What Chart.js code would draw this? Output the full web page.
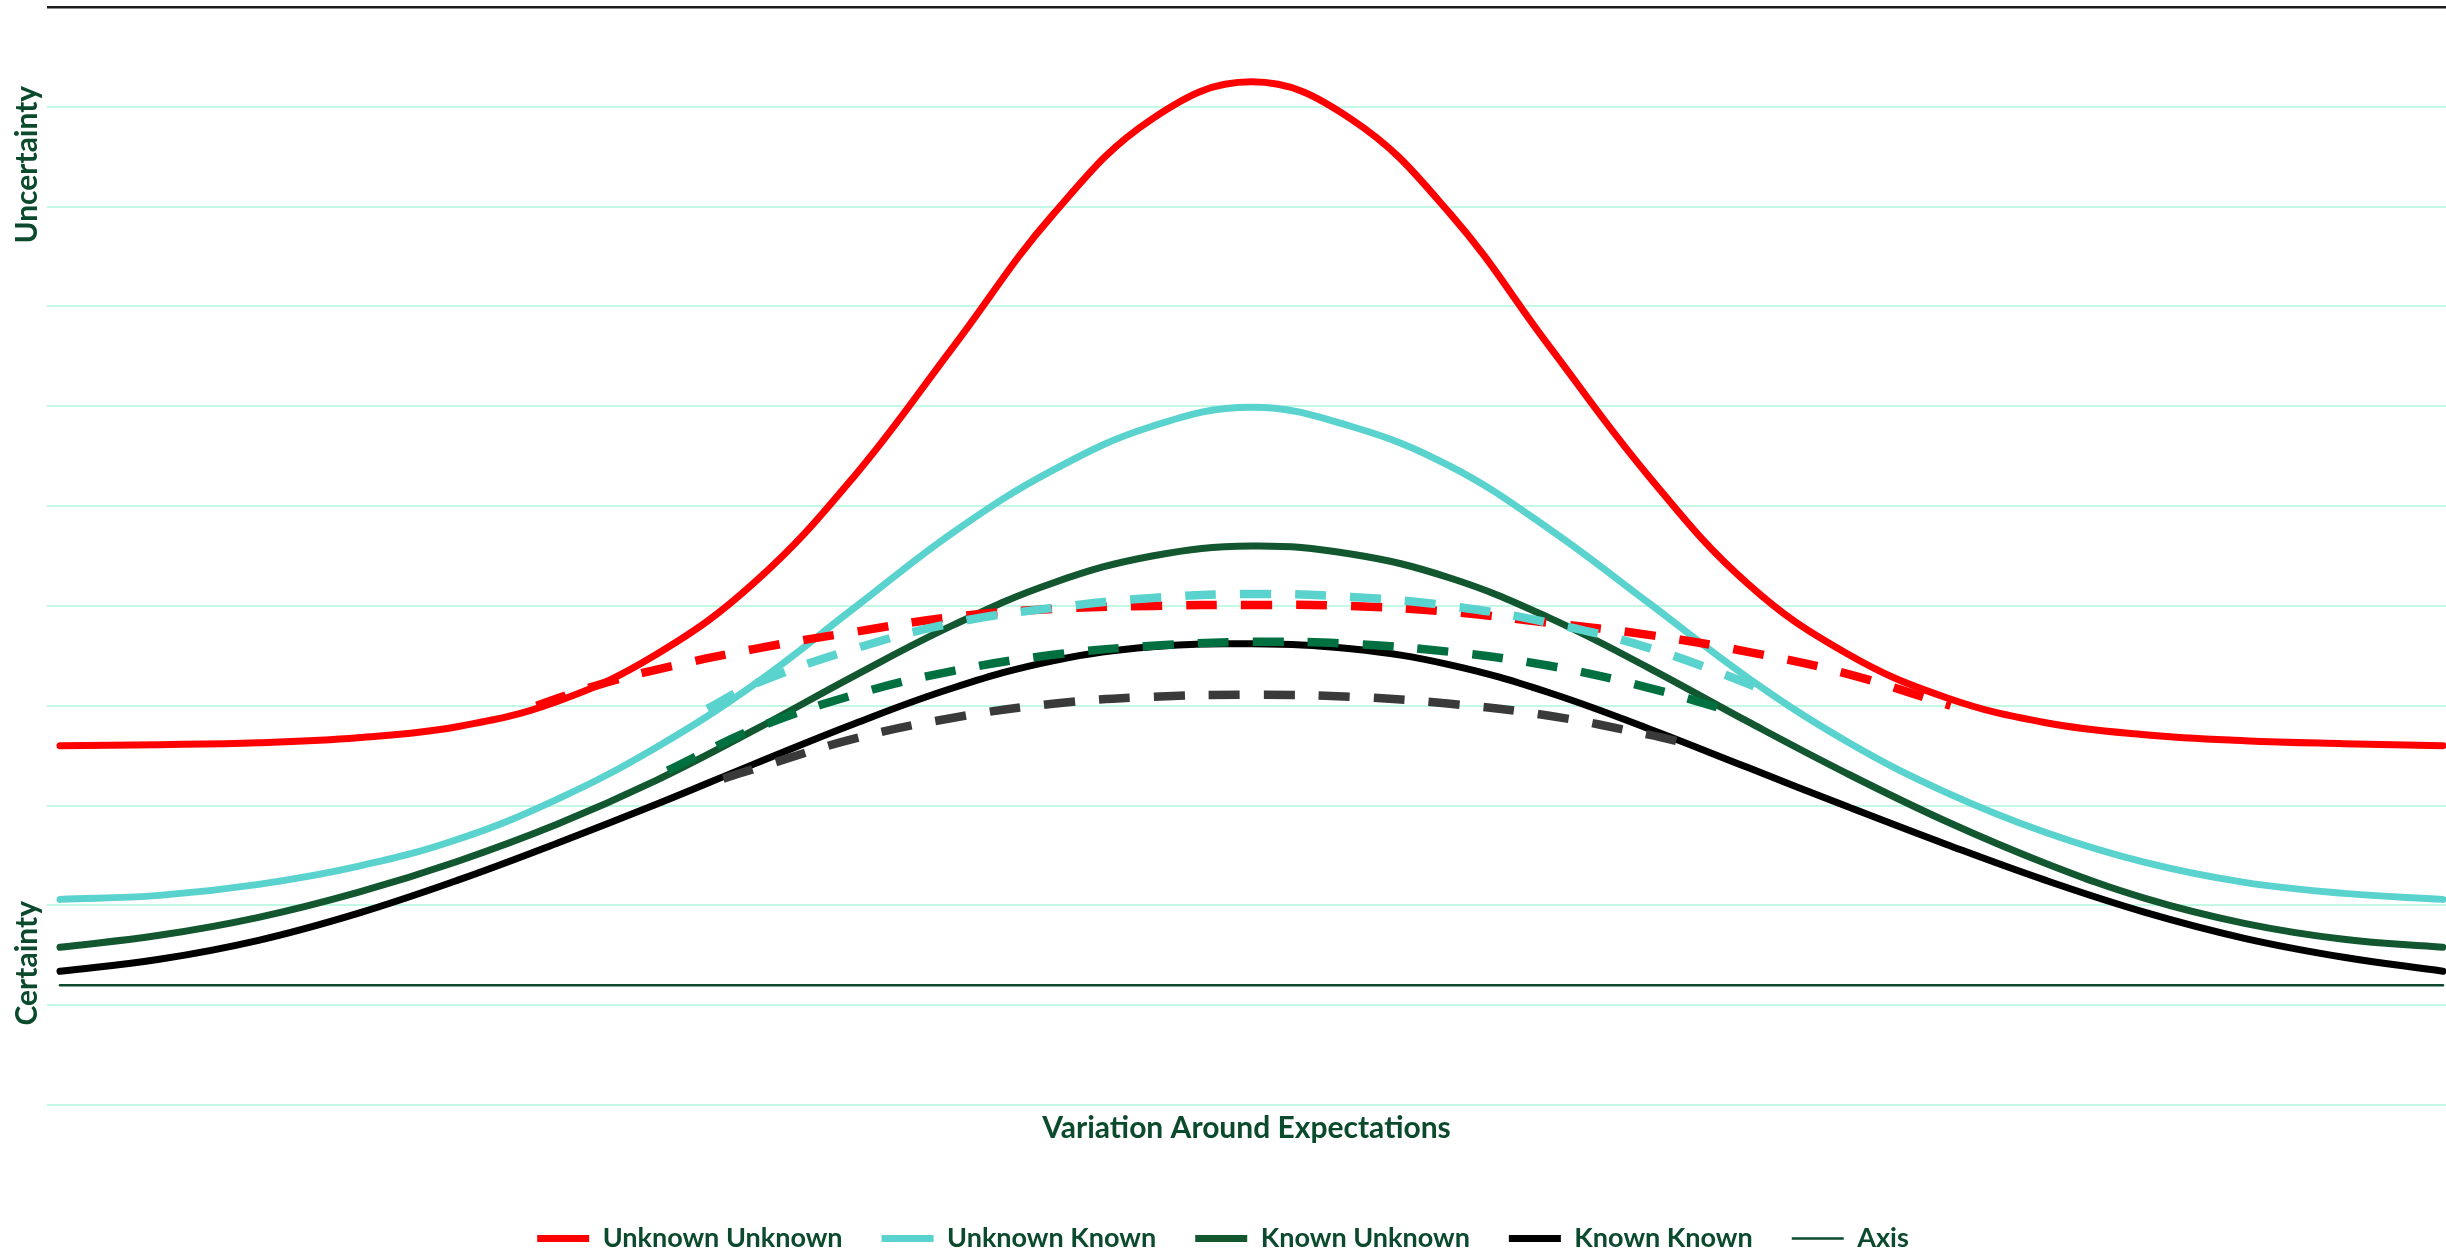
<!DOCTYPE html>
<html>
<head>
<meta charset="utf-8">
<script src="https://cdn.jsdelivr.net/npm/chart.js@4.4.1/dist/chart.umd.min.js"></script>
<style>
  html, body { margin: 0; padding: 0; background: #ffffff; }
  #wrap { width: 2446px; height: 1254px; }
</style>
</head>
<body>
<div id="wrap"><canvas id="myChart"></canvas></div>
<script>
// positions along the x axis (spread around expectation)
const xs = [-3, -2.75, -2.5, -2.25, -2, -1.75, -1.5, -1.25, -1, -0.75, -0.5, -0.25, 0,
  0.25, 0.5, 0.75, 1, 1.25, 1.5, 1.75, 2, 2.25, 2.5, 2.75, 3];

const unknownUnknown = [3.60, 3.61, 3.63, 3.68, 3.79, 4.04, 4.51, 5.24, 6.30, 7.60, 8.92, 9.88, 10.25,
  9.88, 8.93, 7.60, 6.30, 5.22, 4.52, 4.08, 3.83, 3.71, 3.65, 3.62, 3.60];
const unknownKnown = [2.06, 2.10, 2.21, 2.39, 2.66, 3.06, 3.58, 4.22, 4.98, 5.74, 6.36, 6.80, 6.99,
  6.80, 6.40, 5.77, 5.03, 4.28, 3.64, 3.13, 2.73, 2.43, 2.23, 2.12, 2.06];
const knownUnknown = [1.58, 1.70, 1.88, 2.13, 2.44, 2.81, 3.25, 3.76, 4.30, 4.81, 5.23, 5.50, 5.60,
  5.52, 5.28, 4.88, 4.38, 3.84, 3.32, 2.84, 2.42, 2.07, 1.82, 1.66, 1.58];
const knownKnown = [1.34, 1.46, 1.65, 1.92, 2.25, 2.62, 3.01, 3.42, 3.82, 4.18, 4.45, 4.59, 4.62,
  4.57, 4.41, 4.13, 3.77, 3.38, 2.99, 2.61, 2.25, 1.93, 1.67, 1.48, 1.34];

const axisX = [-3, 3];
const axisY = [1.2, 1.2];

// dashed curves only cover the middle part
const uuDashX = [-1.8, -1.66, -1.5, -1.25, -1, -0.75, -0.5, -0.25, 0, 0.25, 0.5, 0.75, 1, 1.25, 1.5, 1.76];
const uuDashY = [4.00, 4.19, 4.36, 4.57, 4.74, 4.89, 4.97, 5.00, 5.01, 5.00, 4.94, 4.83, 4.71, 4.54, 4.32, 4.00];
const ukDashX = [-1.37, -1.25, -1, -0.75, -0.5, -0.25, 0, 0.25, 0.5, 0.75, 1, 1.25, 1.32];
const ukDashY = [3.97, 4.22, 4.57, 4.83, 4.98, 5.08, 5.12, 5.09, 5.00, 4.83, 4.58, 4.22, 4.08];
const kuDashX = [-1.47, -1.25, -1, -0.75, -0.5, -0.25, 0, 0.25, 0.5, 0.75, 1, 1.22];
const kuDashY = [3.35, 3.77, 4.11, 4.35, 4.51, 4.60, 4.64, 4.62, 4.54, 4.40, 4.18, 3.93];
const kkDashX = [-1.33, -1.25, -1, -0.75, -0.5, -0.25, 0, 0.25, 0.5, 0.75, 1, 1.1];
const kkDashY = [3.27, 3.37, 3.67, 3.88, 4.02, 4.09, 4.11, 4.09, 4.02, 3.90, 3.71, 3.62];

const textColor = "#0B4A2C";
const fontName = "Lato";

function pts(x, y) {
  return x.map((v, i) => ({ x: v, y: y[i] }));
}

function solid(label, x, y, color, width, order) {
  return {
    label: label,
    data: pts(x, y),
    borderColor: color,
    backgroundColor: color,
    borderWidth: width,
    borderCapStyle: "round",
    borderJoinStyle: "round",
    tension: 0.4,
    pointRadius: 0,
    order: order,
  };
}

function dashed(label, x, y, color, order) {
  return {
    label: label,
    data: pts(x, y),
    borderColor: color,
    backgroundColor: color,
    borderWidth: 8.5,
    borderDash: [31, 24],
    borderCapStyle: "butt",
    tension: 0.4,
    pointRadius: 0,
    order: order,
    dashed: true,
  };
}

const sideLabels = {
  id: "sideLabels",
  afterDraw(chart) {
    const ctx = chart.ctx;
    const y = chart.scales.y;
    ctx.save();
    ctx.font = "bold 30px " + fontName;
    ctx.fillStyle = textColor;
    ctx.textAlign = "center";
    ctx.textBaseline = "middle";
    [["Uncertainty", 9.42], ["Certainty", 1.42]].forEach(function (l) {
      ctx.save();
      ctx.translate(chart.chartArea.left - 20, y.getPixelForValue(l[1]));
      ctx.rotate(-Math.PI / 2);
      ctx.fillText(l[0], 0, 0);
      ctx.restore();
    });
    ctx.restore();
  },
};

const el = document.getElementById("myChart");

new Chart(el, {
  type: "line",
  data: {
    datasets: [
      solid("Unknown Unknown", xs, unknownUnknown, "#FF0000", 7, 10),
      solid("Unknown Known", xs, unknownKnown, "#5AD3CE", 7, 9),
      solid("Known Unknown", xs, knownUnknown, "#12572F", 7, 8),
      solid("Known Known", xs, knownKnown, "#000000", 7, 7),
      solid("Axis", axisX, axisY, "#0B4A2C", 2.5, 6),
      dashed("Unknown Unknown (near)", uuDashX, uuDashY, "#FF0000", 5),
      dashed("Unknown Known (near)", ukDashX, ukDashY, "#5AD3CE", 4),
      dashed("Known Unknown (near)", kuDashX, kuDashY, "#007040", 3),
      dashed("Known Known (near)", kkDashX, kkDashY, "#3A3A3A", 2),
    ],
  },
  options: {
    responsive: true,
    maintainAspectRatio: false,
    devicePixelRatio: 1,
    animation: false,
    layout: {
      padding: { top: 7, left: 0, right: 0, bottom: -8 },
    },
    scales: {
      x: {
        type: "linear",
        min: -3.0327,
        max: 3.0076,
        grid: { display: false, drawTicks: false },
        border: { display: false },
        ticks: { display: false },
        title: {
          display: true,
          text: "Variation Around Expectations",
          color: textColor,
          font: { family: fontName, size: 30, weight: "bold" },
          padding: { top: 5, bottom: 40 },
        },
      },
      y: {
        min: 0,
        max: 11,
        ticks: { display: false, stepSize: 1 },
        border: { display: false },
        afterFit: (scale) => { scale.width = 47; },
        grid: {
          drawTicks: false,
          color: (c) => (c.tick && c.tick.value === 11 ? "#1E1E1E" : "#C3F8E4"),
          lineWidth: (c) => (c.tick && c.tick.value === 11 ? 2.5 : 2),
        },
      },
    },
    plugins: {
      tooltip: { enabled: false },
      legend: {
        position: "bottom",
        labels: {
          color: textColor,
          font: { family: fontName, size: 27, weight: "bold" },
          usePointStyle: true,
          pointStyle: "line",
          pointStyleWidth: 52,
          padding: 39,
          filter: (item, data) => !data.datasets[item.datasetIndex].dashed,
          sort: (a, b) => a.datasetIndex - b.datasetIndex,
        },
      },
    },
  },
  plugins: [sideLabels],
});
</script>
</body>
</html>
